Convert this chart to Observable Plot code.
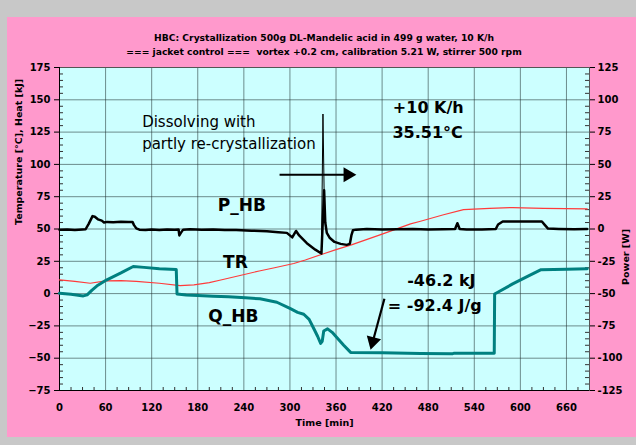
<!DOCTYPE html>
<html>
<head>
<meta charset="utf-8">
<script src="https://cdn.jsdelivr.net/npm/d3@7"></script>
<script src="https://cdn.jsdelivr.net/npm/@observablehq/plot@0.6"></script>
<style>
  html, body { margin: 0; padding: 0; }
  body { width: 636px; height: 445px; background: #c8c8c8; position: relative; overflow: hidden; font-family: "DejaVu Sans", sans-serif; }
  #panel { position: absolute; left: 7px; top: 17px; width: 629px; height: 420px; background: #ff99cc; }
  #title { position: absolute; left: 59px; top: 31px; width: 530px; text-align: center; font-weight: bold; font-size: 9.2px; line-height: 14px; color: #000; }
  #chart { position: absolute; left: 0; top: 60px; }
</style>
</head>
<body>
<div id="panel"></div>
<div id="title">
  <div>HBC: Crystallization 500g DL-Mandelic acid in 499 g water, 10 K/h</div>
  <div>=== jacket control ===&nbsp; vortex +0.2 cm, calibration 5.21 W, stirrer 500 rpm</div>
</div>
<div id="chart"></div>
<script>
// Axis settings
const timeTicks = d3.range(0, 661, 60);          // Time [min]
const timeDomain = [0, 690];
const leftTicks = d3.range(-75, 176, 25);        // Temperature [°C], Heat [kJ]
const leftDomain = [-75, 175];
const rightDomain = [-125, 125];                 // Power [W]

// Q_HB: accumulated heat [kJ] vs time [min]
const qTime = [0, 15, 31, 36, 42, 50, 61, 80, 96, 110, 130, 152, 153, 165, 180, 200, 220, 242, 261, 283, 300, 310, 318, 325, 331, 336, 340, 342, 344, 349, 355, 361, 370, 379, 420, 470, 512, 514, 566, 566.5, 590, 610, 627, 660, 687];
const qHeat = [0.2, -0.5, -1.8, -1, 2.5, 6.5, 10.5, 16, 21, 20.3, 19.3, 18.6, -0.3, -1, -1.5, -2, -2.5, -3.3, -4, -6.7, -11.5, -14.5, -16, -20, -27, -33, -38.5, -37, -29, -27.3, -30, -34, -40, -45.5, -45.8, -46.3, -46.5, -46.1, -46.1, -0.3, 7.5, 13.5, 18.5, 18.8, 19.2];

// TR: reactor temperature [°C] vs time [min]
const trTime = [0, 20, 40, 60, 80, 100, 130, 157, 175, 195, 210, 235, 260, 280, 305, 320, 342, 360, 380, 420, 457, 470, 500, 526, 560, 590, 630, 687];
const trTemp = [10.6, 9.5, 8, 9.8, 10, 9.5, 8, 6.2, 6.7, 8.5, 10.5, 14, 17.5, 20, 23.3, 26, 30.5, 34, 37.7, 46, 54, 56, 61, 65, 66, 66.6, 66, 65.5];

// P_HB: heat-balance power [W] vs time [min]
const pTime = [0, 10, 20, 30, 34, 38, 43, 46, 50, 55, 58, 62, 70, 80, 90, 95, 97, 100, 104, 112, 120, 130, 140, 150, 155, 156, 158, 161, 170, 185, 200, 215, 230, 250, 270, 285, 296, 303, 308, 312, 322, 333, 341, 343, 344.5, 346, 348, 352, 358, 366, 374, 378, 380, 382, 386, 400, 420, 440, 460, 480, 500, 515, 518, 521, 530, 550, 568, 571, 577, 600, 628, 632, 636, 650, 670, 687];
const pPower = [-0.5, -0.3, -0.8, -0.4, -0.2, 4, 10, 9.5, 7.5, 6.5, 5, 5.5, 5.3, 5.6, 5.4, 5.5, 3, 0.5, -0.5, -0.8, -0.3, -0.7, -0.4, -0.6, -0.3, -5, -3, -0.5, -0.2, -0.6, -0.4, -0.8, -0.7, -1.3, -1.8, -2.5, -3, -6.5, -1.5, -5, -11, -16, -19, 89, 30, 5, -3, -7, -10, -11.5, -12.3, -11.5, -5, -1, -0.5, 0, -0.4, -0.2, 0, -0.3, -0.2, 0, 4.5, 0, -0.4, -0.3, 0, 3.5, 5.8, 5.8, 5.8, 3, 0.3, 0, -0.2, 0];

// Text notes placed in data units (time, left-axis value)
const notesRegular = [
  {t: 107.6, v: 133, label: "Dissolving with"},
  {t: 107.6, v: 115.6, label: "partly re-crystallization"}
];
const notesBold = [
  {t: 434, v: 143.8, label: "+10 K/h"},
  {t: 433.5, v: 124.5, label: "35.51°C"},
  {t: 452.7, v: 10, label: "-46.2 kJ"},
  {t: 427.4, v: -9.3, label: "= -92.4 J/g"}
];
const seriesNames = [
  {t: 206, v: 68, label: "P_HB"},
  {t: 213, v: 24, label: "TR"},
  {t: 193.6, v: -17.8, label: "Q_HB"}
];
const arrows = [
  {t1: 286.5, v1: 92, t2: 386.5, v2: 92},
  {t1: 423, v1: -4, t2: 405, v2: -43.5}
];

// Power is drawn against the left scale; map W onto it
const toLeft = w => leftDomain[0] + (w - rightDomain[0]) * (leftDomain[1] - leftDomain[0]) / (rightDomain[1] - rightDomain[0]);
const toRight = v => rightDomain[0] + (v - leftDomain[0]) * (rightDomain[1] - rightDomain[0]) / (leftDomain[1] - leftDomain[0]);

const q = qTime.map((t, i) => ({t, v: qHeat[i]}));
const tr = trTime.map((t, i) => ({t, v: trTemp[i]}));
const p = pTime.map((t, i) => ({t, v: toLeft(pPower[i])}));
const peakIndex = d3.maxIndex(p, d => d.v);
const pBody = p.filter((d, i) => i !== peakIndex);
const pPeak = p.slice(peakIndex - 1, peakIndex + 2);

const W = 636, H = 377, mL = 59, mR = 47, mT = 7, mB = 47;
const innerW = W - mL - mR, innerH = H - mT - mB;
const minorY = d3.range(-75, 176, 5).filter(v => v % 25 !== 0);
const minorX = d3.range(0, 691, 15).filter(v => v % 60 !== 0);

// Filled arrowheads: back each arrow's shaft off from its tip and orient a triangle along it
const headR = 5.5;
const headBack = headR * 1.556;   // distance from a triangle symbol's centre to its apex
const xs = Plot.scale({x: {domain: timeDomain, range: [mL, W - mR]}});
const ys = Plot.scale({y: {domain: leftDomain, range: [H - mB, mT]}});
const heads = arrows.map(a => {
  const x1 = xs.apply(a.t1), y1 = ys.apply(a.v1), x2 = xs.apply(a.t2), y2 = ys.apply(a.v2);
  const len = Math.hypot(x2 - x1, y2 - y1), ux = (x2 - x1) / len, uy = (y2 - y1) / len;
  return {
    t1: a.t1, v1: a.v1,
    t: xs.invert(x2 - headBack * ux), v: ys.invert(y2 - headBack * uy),
    angle: Math.atan2(ux, -uy) * 180 / Math.PI
  };
});

const chart = Plot.plot({
  width: W, height: H,
  marginLeft: mL, marginRight: mR, marginTop: mT, marginBottom: mB,
  style: {background: "transparent", fontFamily: "DejaVu Sans", fontSize: "10px", fontWeight: "bold", color: "#000", overflow: "visible"},
  x: {domain: timeDomain},
  y: {domain: leftDomain},
  marks: [
    Plot.frame({fill: "#ccffff"}),
    Plot.gridX(timeTicks, {stroke: "#1e2e2e", strokeOpacity: 0.55}),
    Plot.gridY(leftTicks, {stroke: "#1e2e2e", strokeOpacity: 0.55}),
    Plot.tickY(minorY, {y: d => d, insetRight: innerW - 4, stroke: "#333"}),
    Plot.tickY(minorY, {y: d => d, insetLeft: innerW - 4, stroke: "#333"}),
    Plot.tickX(minorX, {x: d => d, insetTop: innerH - 3, stroke: "#333"}),
    Plot.frame({stroke: "#555", strokeWidth: 1}),
    Plot.ruleX([timeDomain[0]], {stroke: "#000"}),
    Plot.ruleY([leftDomain[0]], {stroke: "#000"}),
    Plot.axisY(leftTicks, {anchor: "left", tickSize: 5, tickPadding: 4, label: null, fontWeight: "bold"}),
    Plot.axisY(leftTicks, {anchor: "right", tickSize: 5, tickPadding: 3, label: null, tickFormat: v => String(toRight(v)), fontWeight: "bold"}),
    Plot.axisX(timeTicks, {anchor: "bottom", tickSize: 0, tickPadding: 13, label: null, fontWeight: "bold"}),
    Plot.text(["Temperature [°C], Heat [kJ]"], {text: d => d, frameAnchor: "left", rotate: -90, dx: -41, dy: -4, fontSize: 9.5, fontWeight: "bold"}),
    Plot.text(["Power [W]"], {text: d => d, frameAnchor: "right", rotate: -90, dx: 36, fontSize: 9.5, fontWeight: "bold"}),
    Plot.text(["Time [min]"], {text: d => d, frameAnchor: "bottom", dy: 35, fontSize: 9.5, fontWeight: "bold"}),
    // series
    Plot.line(tr, {x: "t", y: "v", stroke: "#ff3b3b", strokeWidth: 1.2}),
    Plot.line(q, {x: "t", y: "v", stroke: "#008080", strokeWidth: 3}),
    Plot.line(pBody, {x: "t", y: "v", stroke: "#000", strokeWidth: 2.5}),
    Plot.line(pPeak, {x: "t", y: "v", stroke: "#000", strokeWidth: 1}),
    // notes
    Plot.link(heads, {x1: "t1", y1: "v1", x2: "t", y2: "v", stroke: "#000", strokeWidth: 2.2}),
    Plot.dot(heads, {x: "t", y: "v", symbol: "triangle", r: headR, fill: "#000", stroke: null, rotate: "angle"}),
    Plot.text(notesRegular, {x: "t", y: "v", text: "label", textAnchor: "start", fontSize: 15, fontWeight: "normal"}),
    Plot.text(notesBold, {x: "t", y: "v", text: "label", textAnchor: "start", fontSize: 16, fontWeight: "bold"}),
    Plot.text(seriesNames, {x: "t", y: "v", text: "label", textAnchor: "start", fontSize: 17, fontWeight: "bold"})
  ]
});
document.getElementById("chart").appendChild(chart);
</script>
</body>
</html>
